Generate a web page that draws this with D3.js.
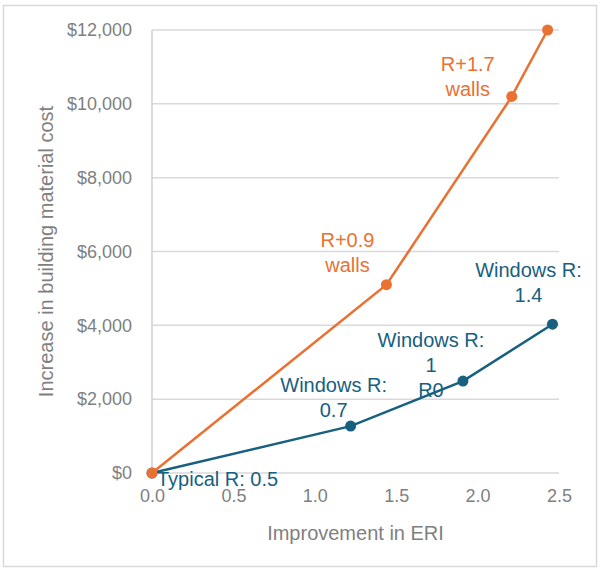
<!DOCTYPE html>
<html>
<head>
<meta charset="utf-8">
<script src="https://cdn.jsdelivr.net/npm/d3@7"></script>
<style>
  body { margin: 0; background: #fff; }
  svg text { font-family: "Liberation Sans", Arial, sans-serif; }
</style>
</head>
<body>
<div id="chart"></div>
<script>
// Data
var wallsEri = [0, 1.44, 2.21, 2.43]
var wallsCost = [0, 5100, 10200, 12000]
var windowsEri = [0, 1.22, 1.91, 2.46]
var windowsCost = [0, 1270, 2490, 4030]
var xTicks = [0, 0.5, 1.0, 1.5, 2.0, 2.5]
var yTicks = [0, 2000, 4000, 6000, 8000, 10000, 12000]

// labels: point index, lines
var wallsLabels = [
  { i: 1, lines: ['R+0.9', 'walls'] },
  { i: 2, lines: ['R+1.7', 'walls'] }
]
var windowsLabels = [
  { i: 0, lines: ['Typical R: 0.5'] },
  { i: 1, lines: ['Windows R:', '0.7'] },
  { i: 2, lines: ['Windows R:', '1', 'R0'] },
  { i: 3, lines: ['Windows R:', '1.4'] }
]

var width = 600
var height = 574
var margin = { top: 30, right: 41, bottom: 101, left: 152 }
var orange = '#e97132'
var blue = '#17607f'
var gray = '#7f7f7f'

var svg = d3.select('#chart').append('svg')
  .attr('width', width)
  .attr('height', height)

// Outer frame
svg.append('rect')
  .attr('x', 3.5)
  .attr('y', 5.5)
  .attr('width', 593)
  .attr('height', 561)
  .attr('fill', '#fff')
  .attr('stroke', '#d9d9d9')
  .attr('stroke-width', 1.5)

var x = d3.scaleLinear()
  .domain([0, 2.5])
  .range([margin.left, width - margin.right])

var y = d3.scaleLinear()
  .domain([0, 12000])
  .range([height - margin.bottom, margin.top])

// Gridlines
svg.append('g')
  .selectAll('line')
  .data(yTicks)
  .enter().append('line')
  .attr('x1', x(0))
  .attr('x2', x(2.5))
  .attr('y1', function (d) { return y(d) })
  .attr('y2', function (d) { return y(d) })
  .attr('stroke', '#d9d9d9')
  .attr('stroke-width', 1.5)

svg.append('line')
  .attr('x1', x(0))
  .attr('x2', x(0))
  .attr('y1', y(0))
  .attr('y2', y(12000))
  .attr('stroke', '#d0d0d0')
  .attr('stroke-width', 1.5)

// Axes
var yAxis = svg.append('g')
  .attr('transform', 'translate(' + (margin.left - 20) + ',0)')
  .call(d3.axisLeft(y).tickValues(yTicks).tickSize(0).tickPadding(0)
    .tickFormat(function (d) { return '$' + d3.format(',')(d) }))
yAxis.select('.domain').remove()
yAxis.selectAll('text')
  .attr('fill', gray)
  .style('font-size', '18px')

var xAxis = svg.append('g')
  .attr('transform', 'translate(0,' + (y(0) + 16) + ')')
  .call(d3.axisBottom(x).tickValues(xTicks).tickSize(0).tickPadding(0)
    .tickFormat(d3.format('.1f')))
xAxis.select('.domain').remove()
xAxis.selectAll('text')
  .attr('fill', gray)
  .style('font-size', '18px')

// Axis titles
svg.append('text')
  .attr('x', (x(0) + x(2.5)) / 2)
  .attr('y', 540)
  .attr('text-anchor', 'middle')
  .attr('fill', gray)
  .style('font-size', '20px')
  .text('Improvement in ERI')

svg.append('text')
  .attr('transform', 'translate(53,' + ((y(0) + y(12000)) / 2) + ') rotate(-90)')
  .attr('text-anchor', 'middle')
  .attr('fill', gray)
  .style('font-size', '20px')
  .text('Increase in building material cost')

// Series
var line = d3.line()
  .x(function (d) { return x(d[0]) })
  .y(function (d) { return y(d[1]) })

function drawSeries(eri, cost, color) {
  var pts = d3.zip(eri, cost)
  svg.append('path')
    .datum(pts)
    .attr('d', line)
    .attr('fill', 'none')
    .attr('stroke', color)
    .attr('stroke-width', 2.5)
  svg.append('g')
    .selectAll('circle')
    .data(pts)
    .enter().append('circle')
    .attr('cx', function (d) { return x(d[0]) })
    .attr('cy', function (d) { return y(d[1]) })
    .attr('r', 5.5)
    .attr('fill', color)
}

drawSeries(windowsEri, windowsCost, blue)
drawSeries(wallsEri, wallsCost, orange)

// Data labels (offsets from their point)
var wallsOffsets = [[-39, -38], [-44, -25]]
var windowsOffsets = [[5, 13], [-17, -34], [-32, -34], [-24, -47]]

function drawLabels(labels, offsets, eri, cost, color) {
  labels.forEach(function (lab, k) {
    var px = x(eri[lab.i]) + offsets[k][0]
    var py = y(cost[lab.i]) + offsets[k][1]
    var t = svg.append('text')
      .attr('x', px)
      .attr('y', py)
      .attr('text-anchor', lab.lines.length === 1 ? 'start' : 'middle')
      .attr('fill', color)
      .style('font-size', '20px')
    lab.lines.forEach(function (s, j) {
      t.append('tspan')
        .attr('x', px)
        .attr('dy', j === 0 ? 0 : 25)
        .text(s)
    })
  })
}

drawLabels(wallsLabels, wallsOffsets, wallsEri, wallsCost, orange)
drawLabels(windowsLabels, windowsOffsets, windowsEri, windowsCost, blue)
</script>
</body>
</html>
